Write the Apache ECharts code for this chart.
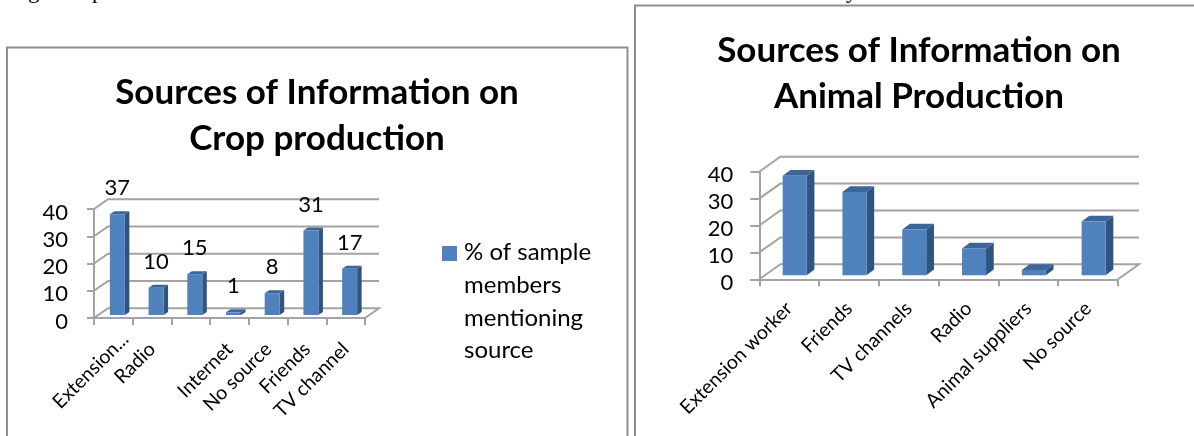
<!DOCTYPE html>
<html>
<head>
<meta charset="utf-8">
<title>Sources of Information</title>
<script src="https://cdn.jsdelivr.net/npm/echarts@6/dist/echarts.min.js"></script>
<style>
  html, body { margin: 0; padding: 0; background: #fff; }
  #chart { width: 1194px; height: 436px; }
</style>
</head>
<body>
<div id="chart"></div>
<script>
const FONT = "Lato";

const cropCategories = ["Extension...", "Radio", "", "Internet", "No source", "Friends", "TV channel"];
const cropValues     = [37, 10, 15, 1, 8, 31, 17];
const animalCategories = ["Extension worker", "Friends", "TV channels", "Radio", "Animal suppliers", "No source"];
const animalValues     = [37, 31, 17, 10, 2, 20];
const yTicks = [0, 10, 20, 30, 40];

const cropTitle   = "Sources of Information on\nCrop production";
const animalTitle = "Sources of Information on\nAnimal Production";
const legendName  = "% of sample\nmembers\nmentioning\nsource";

const GRID_CLR = "#a3a3a3";
const FRONT_CLR = "#4f81bd";
const SIDE_CLR = "#2f5480";
const TOP_CLR = "#3c6699";

// the back wall is drawn from the axis scale, shifted by a fixed depth
function wallSeries(gridIdx, depth, name) {
  return {
    type: "custom", name, xAxisIndex: gridIdx, yAxisIndex: gridIdx, silent: true, z: 1,
    data: yTicks.map(v => [0, v]),
    renderItem(params, api) {
      const y = api.coord([0, api.value(1)])[1];
      const r = params.coordSys;
      const x0 = r.x, x1 = r.x + r.width;
      const pts = [[x0, y], [x0 + depth.dx, y - depth.dy], [x1 + depth.dx, y - depth.dy]];
      if (api.value(1) === 0) pts.push([x1, y]);
      return {
        type: "polyline",
        shape: { points: pts },
        style: { stroke: GRID_CLR, lineWidth: 2, fill: null },
      };
    },
  };
}

function barSeries(gridIdx, values, g, name) {
  return {
    type: "custom", name, xAxisIndex: gridIdx, yAxisIndex: gridIdx, silent: true, z: 2,
    itemStyle: { color: FRONT_CLR },
    data: values.map((v, i) => [i, v]),
    renderItem(params, api) {
      const base = api.coord([api.value(0), 0]);
      const top  = api.coord([api.value(0), api.value(1)]);
      const xl = base[0] + g.shiftX - g.width / 2, xr = xl + g.width;
      const yb = base[1] - g.shiftY, yt = top[1] - g.shiftY;
      const poly = (points, fill) => ({ type: "polygon", shape: { points }, style: { fill } });
      const children = [
        poly([[xr, yb], [xr + g.dx, yb - g.dy], [xr + g.dx, yt - g.dy], [xr, yt]], SIDE_CLR),
        poly([[xl, yt], [xl + g.dx, yt - g.dy], [xr + g.dx, yt - g.dy], [xr, yt]], TOP_CLR),
        poly([[xl, yb], [xr, yb], [xr, yt], [xl, yt]], FRONT_CLR),
      ];
      if (g.showValue) {
        children.push({
          type: "text", x: (xl + xr) / 2, y: yt - g.labelGap,
          style: { text: String(api.value(1)), align: "center", verticalAlign: "middle",
                   font: `${g.valueSize}px ${FONT}`, fill: "#000" },
        });
      }
      return { type: "group", children };
    },
  };
}

// Excel pushed the truncated first label further along its own slant
function slantedLabelSeries(gridIdx, idx, text, ox, oy, size) {
  return {
    type: "custom", xAxisIndex: gridIdx, yAxisIndex: gridIdx, silent: true, z: 3,
    data: [[idx, 0]],
    renderItem(params, api) {
      const p = api.coord([api.value(0), 0]);
      return {
        type: "text", x: p[0] + ox, y: p[1] + oy, rotation: Math.PI / 4,
        style: { text, align: "right", verticalAlign: "middle", font: `${size}px ${FONT}`, fill: "#000" },
      };
    },
  };
}

function xAxis(gridIdx, cats, size, margin, fmt) {
  return {
    type: "category", gridIndex: gridIdx, data: cats,
    axisLine: { lineStyle: { color: GRID_CLR, width: 2 } },
    axisTick: { show: true, alignWithLabel: false, length: 7, lineStyle: { color: GRID_CLR, width: 2 } },
    axisLabel: { interval: 0, rotate: 45, margin, color: "#000", fontFamily: FONT, fontSize: size, formatter: fmt },
  };
}

// tick numbers sit a little below their gridline, so top-align them in a short line box
function yAxis(gridIdx, tickLen, size, margin) {
  return {
    type: "value", gridIndex: gridIdx, min: 0, max: 40, interval: 10,
    splitLine: { show: false },
    axisLine: { show: true, lineStyle: { color: GRID_CLR, width: 2 } },
    axisTick: { show: true, length: tickLen, lineStyle: { color: GRID_CLR, width: 2 } },
    axisLabel: { margin, color: "#000", fontFamily: FONT, fontSize: size, verticalAlign: "top", lineHeight: 7 },
  };
}

const titleStyle = { fontFamily: FONT, fontWeight: "bold", fontSize: 35, lineHeight: 46, color: "#000" };
const frameStyle = { stroke: "#8e8e8e", lineWidth: 2, fill: null };
const cutText = (text, x) => ({
  type: "text", x, y: 3,
  style: { text, font: "23px 'Liberation Serif'", fill: "#000", verticalAlign: "bottom" },
});

const chart = echarts.init(document.getElementById("chart"), null, { renderer: "canvas" });
chart.setOption({
  animation: false,
  backgroundColor: "#fff",
  title: [
    { text: cropTitle, left: 312, top: 65, textAlign: "center", textStyle: titleStyle },
    { text: animalTitle, left: 914, top: 23, textAlign: "center", textStyle: titleStyle },
  ],
  legend: {
    left: 442, top: 236, orient: "vertical",
    itemWidth: 15, itemHeight: 131, itemGap: 0,
    padding: 0,
    data: [{ name: legendName,
             icon: "path://M0 10H15V25H0Z M0 0H0 M15 131H15",
             itemStyle: { color: FRONT_CLR } }],
    textStyle: { fontFamily: FONT, fontSize: 24, lineHeight: 32.7, color: "#000", padding: [0, 0, 0, 2] },
  },
  grid: [
    { left: 94, top: 209, width: 271, height: 109 },
    { left: 759.3, top: 171.7, width: 358.7, height: 107.6 },
  ],
  xAxis: [
    xAxis(0, cropCategories, 19.5, 28, v => v === cropCategories[0] ? "" : v),
    xAxis(1, animalCategories, 19.5, 26),
  ],
  yAxis: [
    yAxis(0, 7, 22, 26),
    yAxis(1, 9, 22, 26),
  ],
  series: [
    wallSeries(0, { dx: 14, dy: 9.7 }, "cropWall"),
    wallSeries(1, { dx: 21, dy: 15 }, "animalWall"),
    barSeries(0, cropValues, { shiftX: 4, shiftY: 3, width: 15, dx: 4.5, dy: 3, showValue: true, labelGap: 26, valueSize: 22 }, legendName),
    barSeries(1, animalValues, { shiftX: 5.5, shiftY: 4, width: 24, dx: 7.7, dy: 5.7, showValue: false }, "animal"),
    slantedLabelSeries(0, 0, cropCategories[0], 12, 18, 19.5),
  ],
  graphic: [
    { type: "polyline", shape: { points: [[7, 437], [7, 47.5], [627.5, 47.5], [627.5, 437]] }, style: frameStyle, silent: true },
    { type: "polyline", shape: { points: [[635, 437], [635, 5.5], [1195, 5.5]] }, style: frameStyle, silent: true },
    cutText("g", 28), cutText("p", 92), cutText("y", 846),
  ],
});
</script>
</body>
</html>
